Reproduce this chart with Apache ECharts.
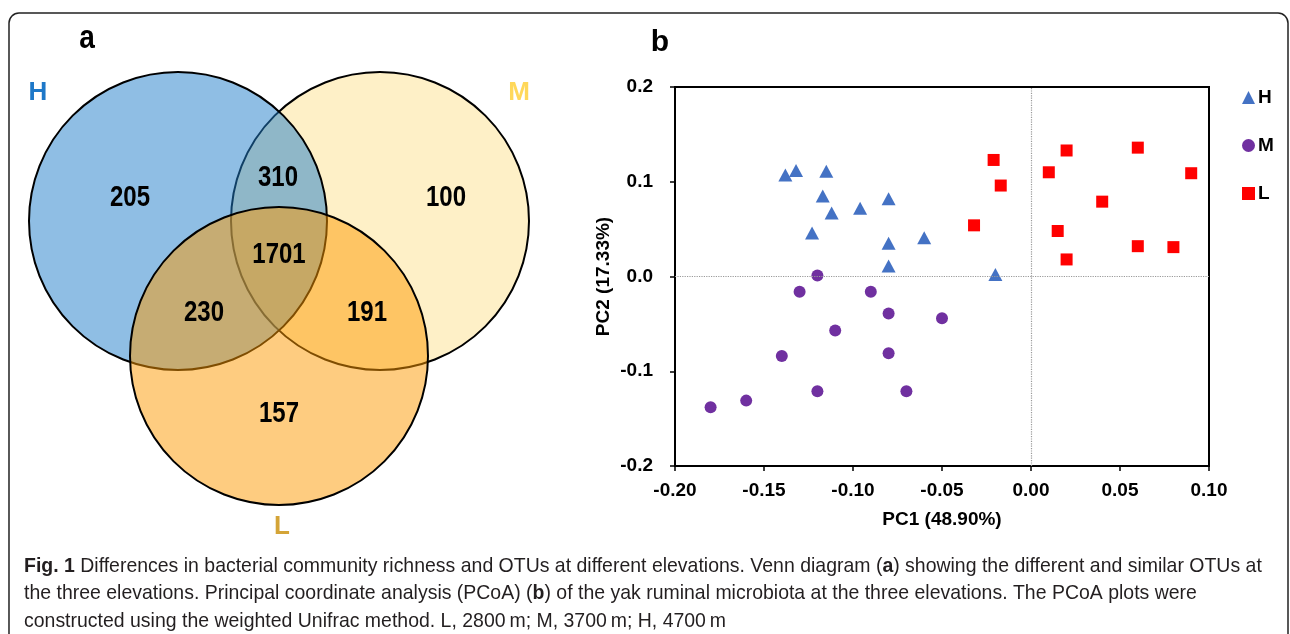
<!DOCTYPE html>
<html>
<head>
<meta charset="utf-8">
<script src="https://cdn.jsdelivr.net/npm/echarts@6/dist/echarts.min.js"></script>
<style>
html,body{margin:0;padding:0;background:#fff;}
#c{width:1290px;height:634px;}
</style>
</head>
<body>
<div id="c"></div>
<script>
// ---- Venn diagram (panel a) ----
var vennSets = ['H', 'M', 'L'];
var vennRegions = ['H only', 'H∩M', 'M only', 'H∩M∩L', 'H∩L', 'M∩L', 'L only'];
var vennCounts = [205, 310, 100, 1701, 230, 191, 157];

// ---- PCoA (panel b) ----
var seriesNames = ['H', 'M', 'L'];
var hPC1 = [-0.138, -0.132, -0.115, -0.117, -0.112, -0.096, -0.080, -0.123, -0.080, -0.060, -0.080, -0.020];
var hPC2 = [0.107, 0.112, 0.111, 0.085, 0.067, 0.072, 0.082, 0.046, 0.035, 0.041, 0.011, 0.002];
var mPC1 = [-0.120, -0.130, -0.090, -0.080, -0.050, -0.110, -0.140, -0.080, -0.120, -0.070, -0.160, -0.180];
var mPC2 = [0.001, -0.016, -0.016, -0.039, -0.044, -0.057, -0.084, -0.081, -0.121, -0.121, -0.131, -0.138];
var lPC1 = [-0.021, -0.017, -0.032, 0.020, 0.010, 0.060, 0.090, 0.040, 0.015, 0.060, 0.080, 0.020];
var lPC2 = [0.123, 0.096, 0.054, 0.133, 0.110, 0.136, 0.109, 0.079, 0.048, 0.032, 0.031, 0.018];
var xTicks = ['-0.20', '-0.15', '-0.10', '-0.05', '0.00', '0.05', '0.10'];
var yTicks = ['-0.2', '-0.1', '0.0', '0.1', '0.2'];
var captionLines = [
  '{b|Fig. 1} Differences in bacterial community richness and OTUs at different elevations. Venn diagram ({b|a}) showing the different and similar OTUs at',
  'the three elevations. Principal coordinate analysis (PCoA) ({b|b}) of the yak ruminal microbiota at the three elevations. The PCoA plots were',
  'constructed using the weighted Unifrac method. L, 2800\u202Fm; M, 3700\u202Fm; H, 4700\u202Fm'
];

function zip(a, b) { return a.map(function (v, i) { return [v, b[i]]; }); }

var chart = echarts.init(document.getElementById('c'), null, {renderer: 'canvas'});

// Venn layout
var circ = {
  M: {cx: 380, cy: 221, r: 149, fill: '#FEF0C7'},
  H: {cx: 178, cy: 221, r: 149, fill: 'rgba(31,125,201,0.5)'},
  L: {cx: 279, cy: 356, r: 149, fill: 'rgba(253,153,1,0.5)'}
};
var regionPos = [[130, 198], [278, 178], [446, 198], [279, 255], [204, 313], [367, 313], [279, 414]];
var setLabelPos = {H: [38, 93], M: [519, 93], L: [282, 527]};
var setLabelColor = {H: '#1E78C8', M: '#FFD85A', L: '#D4A437'};

var graphics = [];
graphics.push({type: 'rect', shape: {x: 9, y: 13, width: 1279, height: 700, r: 10},
  style: {fill: 'none', stroke: '#222', lineWidth: 1.5}, z: 1});
['M', 'H', 'L'].forEach(function (k, i) {
  var c = circ[k];
  graphics.push({type: 'circle', shape: {cx: c.cx, cy: c.cy, r: c.r},
    style: {fill: c.fill, stroke: '#000', lineWidth: 2}, z: 2 + i});
});
vennCounts.forEach(function (v, i) {
  graphics.push({type: 'text', x: regionPos[i][0], y: regionPos[i][1], z: 10, scaleX: 0.8,
    style: {text: String(v), fill: '#000', align: 'center', verticalAlign: 'middle',
      font: 'bold 30px "Liberation Sans", Arial'}});
});
vennSets.forEach(function (k) {
  graphics.push({type: 'text', x: setLabelPos[k][0], y: setLabelPos[k][1], z: 10,
    style: {text: k, fill: setLabelColor[k], align: 'center', verticalAlign: 'middle',
      font: 'bold 26px "Liberation Sans", Arial'}});
});
graphics.push({type: 'text', x: 87, y: 39, z: 10, scaleX: 0.85,
  style: {text: 'a', fill: '#000', align: 'center', verticalAlign: 'middle',
    font: 'bold 33px "Liberation Sans", Arial'}});
graphics.push({type: 'text', x: 660, y: 43, z: 10,
  style: {text: 'b', fill: '#000', align: 'center', verticalAlign: 'middle',
    font: 'bold 30px "Liberation Sans", Arial'}});
captionLines.forEach(function (t, i) {
  graphics.push({type: 'text', x: 24, y: 566 + i * 27.5, z: 10, scaleX: 0.927,
    style: {text: t, fill: '#231F20', align: 'left', verticalAlign: 'middle',
      font: '21px "Liberation Sans", Arial',
      rich: {b: {fontWeight: 'bold', fontSize: 21, fontFamily: '"Liberation Sans", Arial', fill: '#231F20'}}}});
});

var boldFont = '"Liberation Sans", Arial, sans-serif';

var option = {
  animation: false,
  backgroundColor: '#fff',
  graphic: graphics,
  grid: {left: 675, right: 81, top: 87, bottom: 168, show: true, borderColor: '#000', borderWidth: 2, backgroundColor: 'transparent'},
  legend: {
    orient: 'vertical', left: 1237, top: 83, itemWidth: 13, itemHeight: 13, itemGap: 29,
    data: seriesNames,
    textStyle: {color: '#000', fontWeight: 'bold', fontSize: 19, fontFamily: boldFont, padding: [0, 0, 0, -2]}
  },
  xAxis: {
    type: 'value', min: -0.2, max: 0.1, interval: 0.05,
    name: 'PC1 (48.90%)', nameLocation: 'middle', nameGap: 44,
    nameTextStyle: {color: '#000', fontWeight: 'bold', fontSize: 19, fontFamily: boldFont},
    axisLine: {show: true, onZero: false, lineStyle: {color: '#000', width: 2}},
    axisTick: {show: true, inside: false, length: 5, lineStyle: {color: '#000', width: 1.5}},
    axisLabel: {color: '#000', fontWeight: 'bold', fontSize: 19, fontFamily: boldFont, margin: 15,
      formatter: function (v) { return (Math.round(v * 100) / 100).toFixed(2); }},
    splitLine: {show: false}
  },
  yAxis: {
    type: 'value', min: -0.2, max: 0.2, interval: 0.1,
    name: 'PC2 (17.33%)', nameLocation: 'middle', nameGap: 62,
    nameTextStyle: {color: '#000', fontWeight: 'bold', fontSize: 19, fontFamily: boldFont},
    axisLine: {show: true, onZero: false, lineStyle: {color: '#000', width: 2}},
    axisTick: {show: true, inside: false, length: 5, lineStyle: {color: '#000', width: 1.5}},
    axisLabel: {color: '#000', fontWeight: 'bold', fontSize: 19, fontFamily: boldFont, margin: 22,
      formatter: function (v) { var s = (Math.round(v * 10) / 10).toFixed(1); if (s === '-0.0') s = '0.0'; return s; }},
    splitLine: {show: false}
  },
  series: [
    {name: 'H', type: 'scatter', symbol: 'triangle', symbolSize: [14, 13], itemStyle: {color: '#4472C4', opacity: 1},
      data: zip(hPC1, hPC2), z: 3,
      markLine: {silent: true, symbol: 'none', label: {show: false},
        lineStyle: {type: 'dotted', color: '#9a9a9a', width: 1.2},
        data: [{xAxis: 0}, {yAxis: 0}]}},
    {name: 'M', type: 'scatter', symbol: 'circle', symbolSize: 12, itemStyle: {color: '#7030A0', opacity: 1},
      data: zip(mPC1, mPC2), z: 3},
    {name: 'L', type: 'scatter', symbol: 'rect', symbolSize: 12, itemStyle: {color: '#FF0000', opacity: 1},
      data: zip(lPC1, lPC2), z: 3}
  ]
};
chart.setOption(option);
</script>
</body>
</html>
